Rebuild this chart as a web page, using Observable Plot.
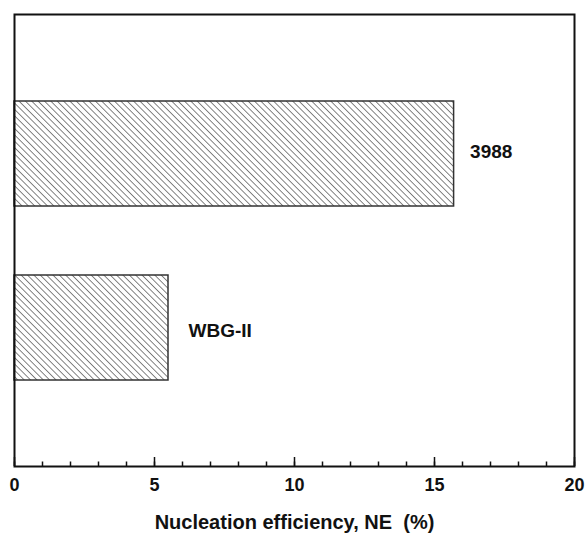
<!DOCTYPE html>
<html>
<head>
<meta charset="utf-8">
<script src="https://cdn.jsdelivr.net/npm/d3@7"></script>
<script src="https://cdn.jsdelivr.net/npm/@observablehq/plot@0.6"></script>
<style>
  body { margin: 0; background: white; }
  #chart { font-family: "Liberation Sans", Arial, sans-serif; }
</style>
</head>
<body>
<div id="chart"></div>
<script>
const categories = ["3988", "WBG-II"];
const values = [15.7, 5.5];
const majorTicks = [0, 5, 10, 15, 20];
const minorTicks = d3.range(0, 21);

const data = categories.map((c, i) => ({name: c, value: values[i]}));

const plot = Plot.plot({
  width: 585,
  height: 533,
  marginLeft: 14,
  marginRight: 11,
  marginTop: 14,
  marginBottom: 67,
  style: {fontFamily: "Liberation Sans, Arial, sans-serif", background: "white"},
  x: {domain: [0, 20]},
  y: {domain: categories, paddingInner: 0.397, paddingOuter: 0.497, axis: null},
  marks: [
    Plot.barX(data, {x: "value", y: "name", fill: "url(#hatch)", stroke: "#333", strokeWidth: 1.5}),
    Plot.text(data.filter(d => d.name === "3988"), {x: "value", y: "name", text: "name", dx: 16, dy: -2, textAnchor: "start", fontWeight: "bold", fontSize: 19, fill: "#111"}),
    Plot.text(data.filter(d => d.name === "WBG-II"), {x: "value", y: "name", text: "name", dx: 20, dy: 3, textAnchor: "start", fontWeight: "bold", fontSize: 19, fill: "#111"}),
    Plot.axisX({ticks: minorTicks, tickSize: -4.5, text: null, label: null, stroke: "#111", strokeWidth: 1.5}),
    Plot.axisX({ticks: majorTicks, tickSize: -9, text: null, label: null, stroke: "#111", strokeWidth: 1.5}),
    Plot.axisX({ticks: majorTicks, tickSize: 0, tickPadding: 12, fontSize: 18, fontWeight: "bold", fill: "#111",
      label: "Nucleation efficiency, NE  (%)", labelAnchor: "center", labelArrow: "none", labelOffset: 58}),
    Plot.frame({stroke: "#111", strokeWidth: 2})
  ]
});

const ns = "http://www.w3.org/2000/svg";
const defs = document.createElementNS(ns, "defs");
defs.innerHTML = `<pattern id="hatch" patternUnits="userSpaceOnUse" width="4.5" height="4.5" patternTransform="rotate(-45)">
  <rect width="4.5" height="4.5" fill="white"/>
  <line x1="0" y1="0" x2="0" y2="4.5" stroke="#666" stroke-width="1.6"/>
</pattern>`;
plot.insertBefore(defs, plot.firstChild);
plot.querySelectorAll("text").forEach(t => {
  t.setAttribute("font-weight", "bold");
  t.style.fontWeight = "bold";
  if (t.textContent.startsWith("Nucleation")) {
    t.setAttribute("font-size", "20");
    t.style.whiteSpace = "pre";
    t.setAttribute("xml:space", "preserve");
    t.setAttribute("dy", "0.2em");
  }
});
document.getElementById("chart").appendChild(plot);
</script>
</body>
</html>
